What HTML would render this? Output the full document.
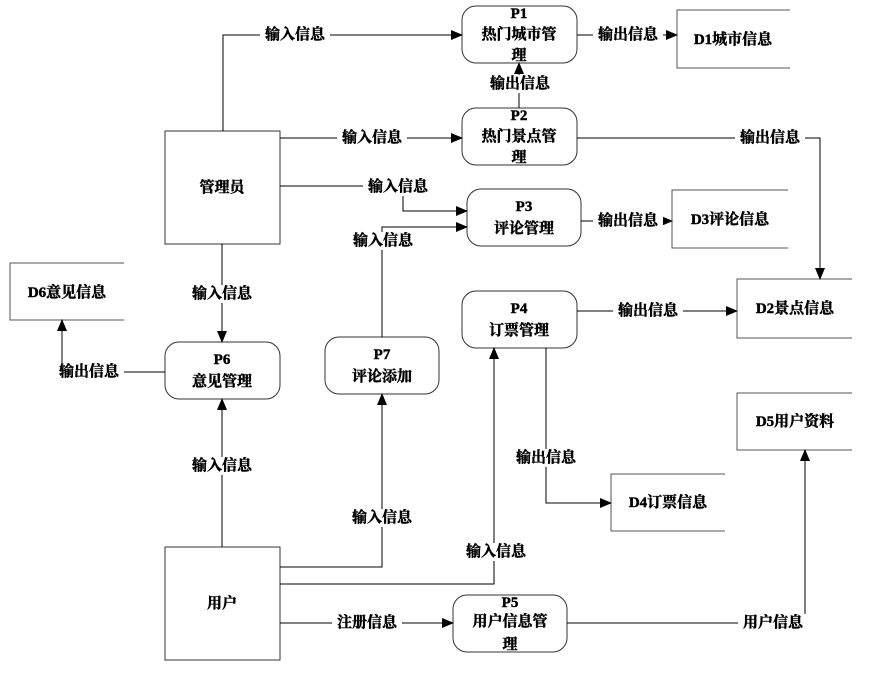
<!DOCTYPE html>
<html><head><meta charset="utf-8"><style>
body{margin:0;background:#fff}
text{font-family:"Liberation Serif","Noto Serif CJK SC",serif;font-weight:bold;font-size:15px;fill:#000;stroke:#000;stroke-width:0.45;text-anchor:middle;dominant-baseline:central}
.l{fill:#fff;stroke:none}
</style></head><body>
<svg width="873" height="693" xmlns="http://www.w3.org/2000/svg">
<defs><marker id="a" markerWidth="12" markerHeight="10" refX="11" refY="5" orient="auto" markerUnits="userSpaceOnUse"><path d="M0,0L12,5L0,10z" fill="#000"/></marker></defs>
<g fill="none" stroke="#000" stroke-width="1">
<g stroke="#333">
<rect x="462" y="6" width="115" height="57" rx="14"/>
<rect x="462" y="108" width="115" height="57" rx="14"/>
<rect x="467" y="189" width="114" height="57" rx="14"/>
<rect x="462" y="291" width="115" height="57" rx="14"/>
<rect x="165" y="342" width="115" height="57" rx="14"/>
<rect x="325" y="337" width="114" height="57" rx="14"/>
<rect x="453" y="595" width="114" height="57" rx="14"/>
<rect x="165" y="131" width="115" height="113"/>
<rect x="165" y="547" width="115" height="113"/>
</g>
<g stroke="#555">
<path d="M790,10H677V68H790"/>
<path d="M788,190H672V248H788"/>
<path d="M852,279H737V338H852"/>
<path d="M725,474H611V531H725"/>
<path d="M852,393H737V450H852"/>
<path d="M124,263H10V320H124"/>
</g>
<path d="M223,131V35H462" marker-end="url(#a)"/>
<path d="M577,35H677" marker-end="url(#a)"/>
<path d="M519,108V63" marker-end="url(#a)"/>
<path d="M280,138H462" marker-end="url(#a)"/>
<path d="M577,138H820V279" marker-end="url(#a)"/>
<path d="M280,186H403V211H467" marker-end="url(#a)"/>
<path d="M382,337V227H467" marker-end="url(#a)"/>
<path d="M581,221H672" marker-end="url(#a)"/>
<path d="M577,311H737" marker-end="url(#a)"/>
<path d="M546,348V503H611" marker-end="url(#a)"/>
<path d="M222,244V342" marker-end="url(#a)"/>
<path d="M165,372H62V320" marker-end="url(#a)"/>
<path d="M222,547V399" marker-end="url(#a)"/>
<path d="M280,567H382V394" marker-end="url(#a)"/>
<path d="M280,584H494V348" marker-end="url(#a)"/>
<path d="M280,623H453" marker-end="url(#a)"/>
<path d="M567,623H805V450" marker-end="url(#a)"/>
</g>
<g class="l">
<rect x="260" y="26" width="70" height="18" class="l"/>
<rect x="593" y="26" width="70" height="18" class="l"/>
<rect x="485" y="75" width="70" height="18" class="l"/>
<rect x="337" y="129" width="70" height="18" class="l"/>
<rect x="735" y="129" width="70" height="18" class="l"/>
<rect x="363" y="178" width="70" height="18" class="l"/>
<rect x="348" y="232" width="70" height="18" class="l"/>
<rect x="593" y="212" width="70" height="18" class="l"/>
<rect x="613" y="302" width="70" height="18" class="l"/>
<rect x="511" y="449" width="70" height="18" class="l"/>
<rect x="187" y="285" width="70" height="18" class="l"/>
<rect x="54" y="363" width="70" height="18" class="l"/>
<rect x="187" y="457" width="70" height="18" class="l"/>
<rect x="347" y="509" width="70" height="18" class="l"/>
<rect x="461" y="543" width="70" height="18" class="l"/>
<rect x="332" y="614" width="70" height="18" class="l"/>
<rect x="738" y="614" width="70" height="18" class="l"/>
</g>
<text x="295" y="35">输入信息</text>
<text x="628" y="35">输出信息</text>
<text x="520" y="84">输出信息</text>
<text x="372" y="138">输入信息</text>
<text x="770" y="138">输出信息</text>
<text x="398" y="187">输入信息</text>
<text x="383" y="241">输入信息</text>
<text x="628" y="221">输出信息</text>
<text x="648" y="311">输出信息</text>
<text x="546" y="458">输出信息</text>
<text x="222" y="294">输入信息</text>
<text x="89" y="372">输出信息</text>
<text x="222" y="466">输入信息</text>
<text x="382" y="518">输入信息</text>
<text x="496" y="552">输入信息</text>
<text x="367" y="623">注册信息</text>
<text x="773" y="623">用户信息</text>
<text x="519" y="14">P1</text><text x="519" y="35">热门城市管</text><text x="519" y="56">理</text>
<text x="519" y="116">P2</text><text x="519" y="137">热门景点管</text><text x="519" y="158">理</text>
<text x="524" y="207">P3</text><text x="524" y="229">评论管理</text>
<text x="519" y="309">P4</text><text x="519" y="331">订票管理</text>
<text x="222" y="360">P6</text><text x="222" y="382">意见管理</text>
<text x="382" y="355">P7</text><text x="382" y="377">评论添加</text>
<text x="510" y="603">P5</text><text x="510" y="622">用户信息管</text><text x="510" y="645">理</text>
<text x="222" y="188">管理员</text>
<text x="222" y="604">用户</text>
<text x="733" y="40">D1城市信息</text>
<text x="730" y="220">D3评论信息</text>
<text x="795" y="309">D2景点信息</text>
<text x="668" y="503">D4订票信息</text>
<text x="795" y="422">D5用户资料</text>
<text x="67" y="293">D6意见信息</text>
</svg>
</body></html>
